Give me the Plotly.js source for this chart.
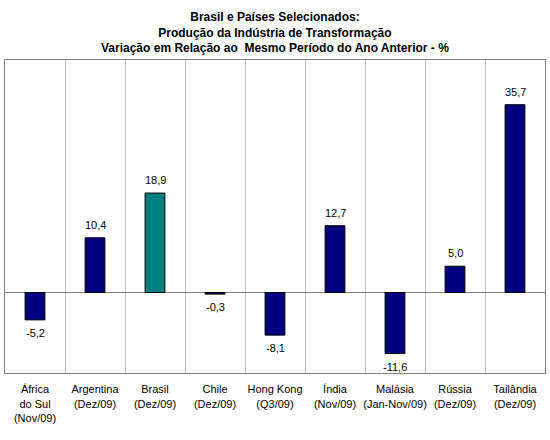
<!DOCTYPE html>
<html><head><meta charset="utf-8">
<script src="https://cdn.plot.ly/plotly-3.0.1.min.js"></script>
<style>body{margin:0;background:#fff}#c{width:550px;height:440px}</style>
</head><body><div id="c"></div>
<script>
const categories = ["África<br>do Sul<br>(Nov/09)", "Argentina<br>(Dez/09)", "Brasil<br>(Dez/09)", "Chile<br>(Dez/09)", "Hong Kong<br>(Q3/09)", "Índia<br>(Nov/09)", "Malásia<br>(Jan-Nov/09)", "Rússia<br>(Dez/09)", "Tailândia<br>(Dez/09)"];
const values = [-5.2, 10.4, 18.9, -0.3, -8.1, 12.7, -11.6, 5.0, 35.7];
const highlight = "Brasil<br>(Dez/09)";
const titleText = "<b>Brasil e Países Selecionados:<br>Produção da Indústria de Transformação<br>Variação em Relação ao\u00a0 Mesmo Período do Ano Anterior - %</b>";

const FONT = 'Liberation Sans, Arial';
const colors = categories.map(c => c === highlight ? "#008080" : "#000080");
const labels = values.map(v => v.toFixed(1).replace('.', ','));

const valueNotes = categories.map((c, i) => ({
  x: c, y: values[i], xref: 'x', yref: 'y', text: labels[i], showarrow: false,
  yanchor: values[i] >= 0 ? 'bottom' : 'top', yshift: values[i] >= 0 ? 5 : -5,
  font: {family: FONT, size: 11, color: '#000'}
}));

Plotly.newPlot('c', [{
  type: 'bar', x: categories, y: values,
  marker: {color: colors, line: {color: '#000', width: 1}},
  hoverinfo: 'none'
}], {
  width: 550, height: 440,
  margin: {l: 5, r: 5, t: 60, b: 67},
  paper_bgcolor: '#fff', plot_bgcolor: '#fff',
  bargap: 0.67,
  showlegend: false,
  annotations: [{
    text: titleText, xref: 'paper', yref: 'paper', x: 0.5, y: 1, xanchor: 'center', yanchor: 'bottom',
    yshift: 3, showarrow: false,
    font: {family: FONT, size: 12, color: '#000'}
  }].concat(valueNotes),
  xaxis: {
    type: 'category', tickson: 'boundaries', showgrid: true, gridcolor: '#c0c0c0', gridwidth: 1,
    showline: true, linecolor: '#808080', mirror: true, ticks: '', tickangle: 0,
    tickfont: {family: FONT, size: 11, color: '#000'},
    ticklabelstandoff: 6, fixedrange: true
  },
  yaxis: {
    range: [-15.3, 44.2], showgrid: false, showticklabels: false, ticks: '',
    zeroline: true, zerolinecolor: '#808080', zerolinewidth: 1,
    showline: true, linecolor: '#808080', mirror: true, fixedrange: true
  }
}, {staticPlot: true});
</script></body></html>
